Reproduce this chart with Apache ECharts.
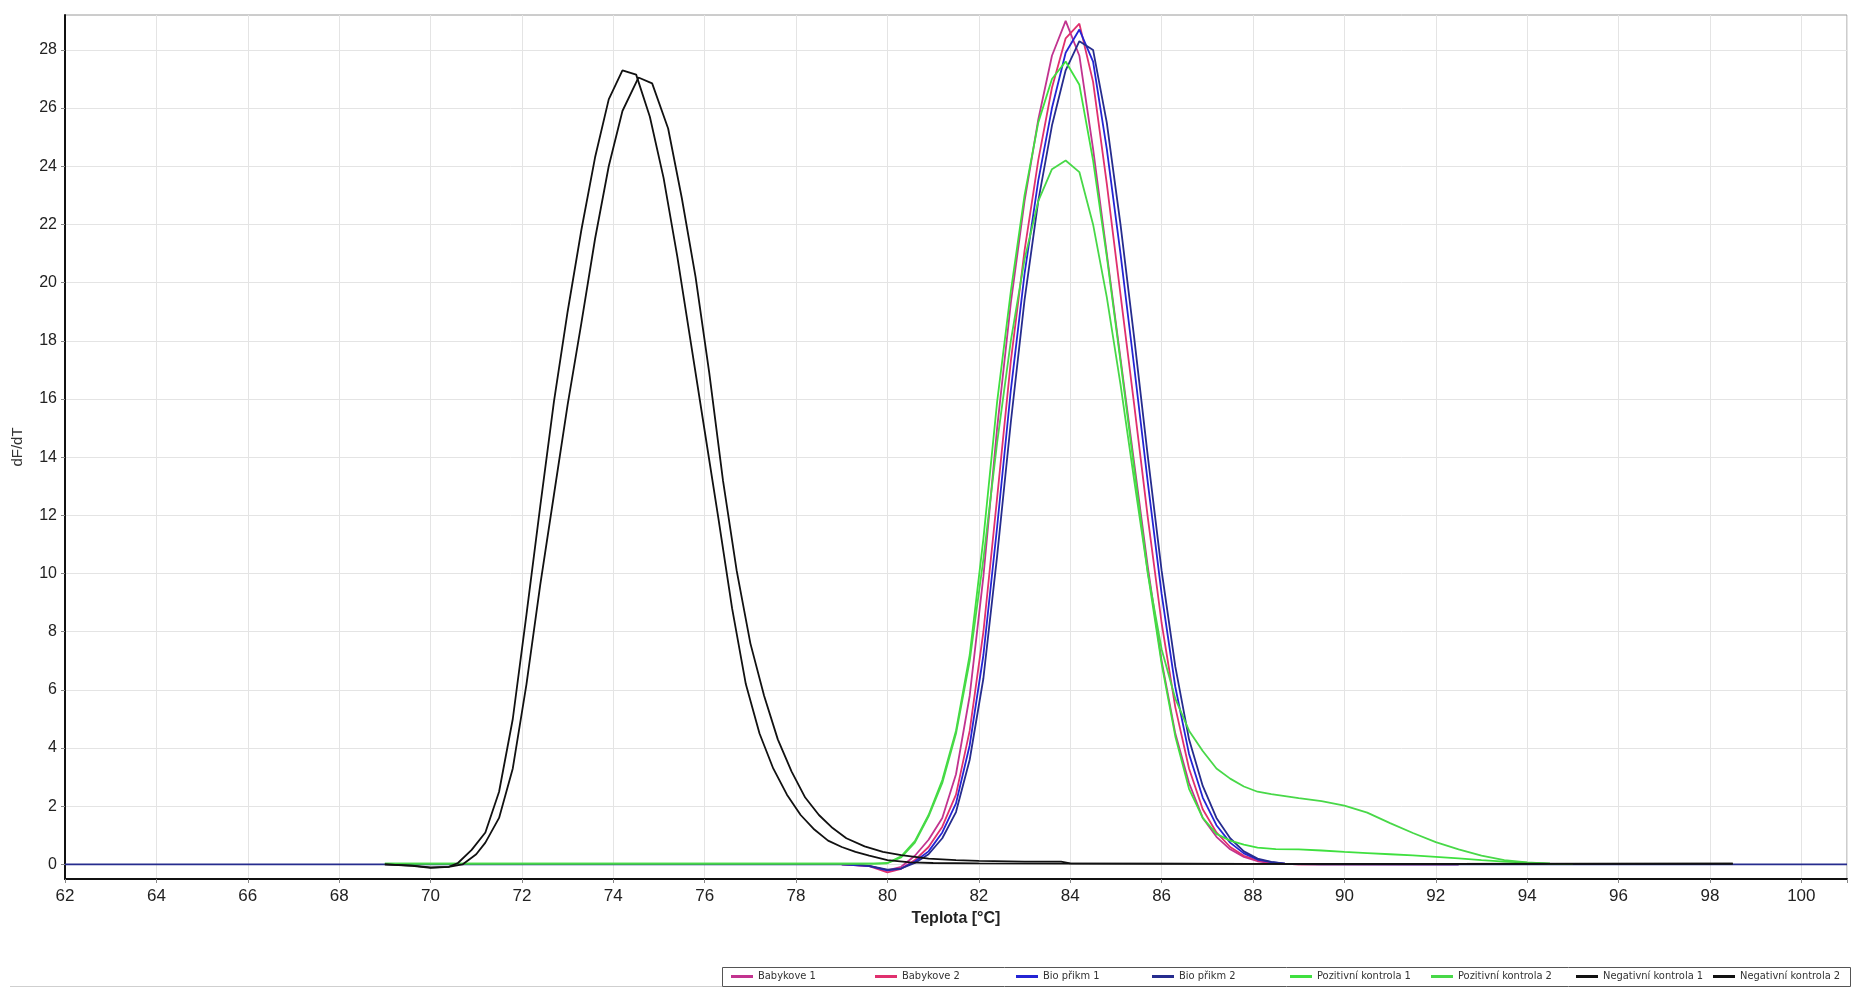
<!DOCTYPE html>
<html><head><meta charset="utf-8">
<script src="https://cdn.jsdelivr.net/npm/echarts@6/dist/echarts.min.js"></script>
<style>html,body{margin:0;padding:0;background:#fff}#c{width:1852px;height:988px}</style>
</head><body><div id="c"></div>
<script>
// Teplota [°C] ticks and dF/dT ticks
const xTicks = [62,64,66,68,70,72,74,76,78,80,82,84,86,88,90,92,94,96,98,100];
const yTicks = [0,2,4,6,8,10,12,14,16,18,20,22,24,26,28];

const seriesNames = ["Babykove 1","Babykove 2","Bio přikm 1","Bio přikm 2","Pozitivní kontrola 1","Pozitivní kontrola 2","Negativní kontrola 1","Negativní kontrola 2"];

// [teplota, dF/dT] pairs
const babykove1 = [[79.0,0],[79.6,-0.05],[80.0,-0.2],[80.3,-0.08],[80.6,0.3],[80.9,0.85],[81.2,1.6],[81.5,3.1],[81.8,5.8],[82.1,9.9],[82.4,15.0],[82.7,19.3],[83.0,22.8],[83.3,25.6],[83.6,27.8],[83.9,29.0],[84.2,27.8],[84.5,24.6],[84.8,21.0],[85.1,17.4],[85.4,13.8],[85.7,10.2],[86.0,7.0],[86.3,4.5],[86.6,2.8],[86.9,1.6],[87.2,0.95],[87.5,0.52],[87.8,0.26],[88.1,0.11],[88.4,0.05],[88.7,0.02],[89.0,0],[92.5,0]];
const babykove2 = [[79.0,0],[79.6,-0.06],[80.0,-0.27],[80.3,-0.15],[80.6,0.15],[80.9,0.6],[81.2,1.3],[81.5,2.4],[81.8,4.6],[82.1,8.0],[82.4,12.6],[82.7,17.3],[83.0,21.1],[83.3,24.2],[83.6,26.7],[83.9,28.4],[84.2,28.9],[84.5,26.9],[84.8,23.4],[85.1,19.6],[85.4,15.8],[85.7,11.9],[86.0,8.3],[86.3,5.4],[86.6,3.3],[86.9,1.9],[87.2,1.1],[87.5,0.6],[87.8,0.3],[88.1,0.14],[88.4,0.06],[88.7,0.02],[89.0,0],[92.5,0]];
const bioPrikm1 = [[79.0,0],[79.6,-0.06],[80.0,-0.2],[80.3,-0.14],[80.6,0.1],[80.9,0.45],[81.2,1.1],[81.5,2.1],[81.8,4.1],[82.1,7.2],[82.4,11.6],[82.7,16.3],[83.0,20.3],[83.3,23.5],[83.6,26.0],[83.9,27.9],[84.2,28.7],[84.5,27.6],[84.8,24.6],[85.1,21.0],[85.4,17.1],[85.7,13.1],[86.0,9.3],[86.3,6.1],[86.6,3.8],[86.9,2.3],[87.2,1.35],[87.5,0.75],[87.8,0.38],[88.1,0.17],[88.4,0.08],[88.7,0.03],[89.0,0.01],[92.5,0]];
const bioPrikm2 = [[62.0,0],[79.3,0],[79.6,-0.05],[80.0,-0.18],[80.3,-0.14],[80.6,0.05],[80.9,0.35],[81.2,0.9],[81.5,1.8],[81.8,3.6],[82.1,6.4],[82.4,10.6],[82.7,15.2],[83.0,19.4],[83.3,22.8],[83.6,25.4],[83.9,27.3],[84.2,28.3],[84.5,28.0],[84.8,25.5],[85.1,22.0],[85.4,18.1],[85.7,14.0],[86.0,10.1],[86.3,6.8],[86.6,4.3],[86.9,2.7],[87.2,1.6],[87.5,0.9],[87.8,0.45],[88.1,0.2],[88.4,0.09],[88.7,0.03],[89.0,0.01],[89.5,0],[101.0,0]];
const pozitivni1 = [[69.0,0.03],[79.7,0.03],[80.0,0.05],[80.3,0.28],[80.6,0.8],[80.9,1.7],[81.2,2.9],[81.5,4.6],[81.8,7.2],[82.1,11.2],[82.4,15.9],[82.7,19.7],[83.0,23.0],[83.3,25.5],[83.6,27.0],[83.9,27.6],[84.2,26.8],[84.5,24.2],[84.8,20.9],[85.1,17.3],[85.4,13.6],[85.7,10.0],[86.0,6.9],[86.3,4.4],[86.6,2.6],[86.9,1.6],[87.2,1.05],[87.5,0.82],[87.8,0.68],[88.1,0.58],[88.5,0.53],[89.0,0.52],[89.5,0.48],[90.0,0.43],[90.5,0.39],[91.0,0.35],[91.5,0.31],[92.0,0.26],[92.5,0.21],[93.0,0.15],[93.5,0.1],[94.0,0.06],[94.5,0.03],[95.0,0.01]];
const pozitivni2 = [[69.0,0.03],[79.7,0.03],[80.0,0.04],[80.3,0.24],[80.6,0.75],[80.9,1.65],[81.2,2.8],[81.5,4.5],[81.8,7.0],[82.1,10.5],[82.4,14.5],[82.7,18.0],[83.0,20.8],[83.3,22.8],[83.6,23.9],[83.9,24.2],[84.2,23.8],[84.5,22.0],[84.8,19.5],[85.1,16.5],[85.4,13.2],[85.7,10.0],[86.0,7.4],[86.3,5.7],[86.6,4.6],[86.9,3.9],[87.2,3.3],[87.5,2.95],[87.8,2.68],[88.1,2.5],[88.4,2.42],[88.7,2.35],[89.0,2.28],[89.5,2.18],[90.0,2.02],[90.5,1.78],[91.0,1.42],[91.5,1.08],[92.0,0.77],[92.5,0.52],[93.0,0.3],[93.5,0.15],[94.0,0.07],[94.5,0.03],[95.0,0.01]];
const negativni1 = [[69.0,0],[69.6,-0.05],[70.0,-0.12],[70.4,-0.08],[70.6,0.05],[70.9,0.5],[71.2,1.1],[71.5,2.5],[71.8,5.0],[72.1,8.6],[72.4,12.3],[72.7,15.9],[73.0,19.0],[73.3,21.8],[73.6,24.3],[73.9,26.3],[74.2,27.3],[74.5,27.15],[74.8,25.7],[75.1,23.6],[75.4,20.9],[75.7,17.9],[76.0,14.9],[76.3,11.9],[76.6,8.8],[76.9,6.2],[77.2,4.5],[77.5,3.3],[77.8,2.4],[78.1,1.7],[78.4,1.2],[78.7,0.82],[79.0,0.6],[79.3,0.43],[79.6,0.3],[80.0,0.15],[80.5,0.07],[81.0,0.05],[82.0,0.04],[84.0,0.03],[88.0,0.02],[92.0,0.02],[98.5,0.03]];
const negativni2 = [[69.0,0],[69.6,-0.04],[70.0,-0.1],[70.4,-0.08],[70.7,0],[71.0,0.35],[71.2,0.75],[71.5,1.6],[71.8,3.3],[72.1,6.2],[72.4,9.6],[72.7,12.7],[73.0,15.8],[73.3,18.6],[73.6,21.5],[73.9,24.0],[74.2,25.9],[74.55,27.05],[74.85,26.85],[75.2,25.3],[75.5,22.9],[75.8,20.2],[76.1,16.9],[76.4,13.2],[76.7,10.1],[77.0,7.6],[77.3,5.8],[77.6,4.3],[77.9,3.2],[78.2,2.3],[78.5,1.7],[78.8,1.25],[79.1,0.9],[79.5,0.62],[79.9,0.43],[80.3,0.32],[80.9,0.2],[81.5,0.15],[82.0,0.12],[83.0,0.1],[83.8,0.1],[84.0,0.04],[88.0,0.02],[92.0,0.02],[98.5,0.03]];

const seriesData = [babykove1,babykove2,bioPrikm1,bioPrikm2,pozitivni1,pozitivni2,negativni1,negativni2];
const seriesColors = ['#c2338f','#e0306e','#2424d4','#262c8e','#3fe03f','#48d848','#111111','#111111'];
const legendLefts = [731,875,1016,1152,1290,1431,1576,1713];

const chart = echarts.init(document.getElementById('c'), null, {renderer:'canvas'});
const series = seriesNames.map((n,i)=>({
  name:n, type:'line', data:seriesData[i], showSymbol:false, symbol:'none',
  smooth:false, lineStyle:{color:seriesColors[i], width:1.8}, itemStyle:{color:seriesColors[i]},
  emphasis:{disabled:true}, z: 2
}));
const legends = seriesNames.map((n,i)=>({
  data:[n], left:legendLefts[i], top:971, orient:'horizontal',
  icon:'rect', itemWidth:22, itemHeight:3, itemGap:0, padding:0,
  textStyle:{fontFamily:"'Liberation Sans Narrow','DejaVu Sans Condensed',sans-serif",fontSize:11,color:'#333'},
  selectedMode:false
}));
chart.setOption({
  animation:false,
  backgroundColor:'#fff',
  grid:{left:65,right:5,top:15,bottom:109,show:true,borderColor:'#9a9a9a',borderWidth:1,containLabel:false},
  graphic:[
    {type:'rect',shape:{x:722.5,y:967.5,width:1128,height:19},style:{fill:'#fff',stroke:'#555',lineWidth:1},z:-1},
    {type:'line',shape:{x1:10,y1:986.5,x2:722,y2:986.5},style:{stroke:'#cfcfcf',lineWidth:1}}
  ],
  xAxis:{type:'value',min:62,max:101,interval:2,
    name:'Teplota [°C]',nameLocation:'middle',nameGap:32,
    nameTextStyle:{fontFamily:'Liberation Sans, Arial, sans-serif',fontSize:16,fontWeight:'bold',color:'#222'},
    axisLine:{show:true,onZero:false,lineStyle:{color:'#111',width:2}},
    axisTick:{show:true,length:4,lineStyle:{color:'#888'}},
    axisLabel:{fontFamily:'Liberation Sans, Arial, sans-serif',fontSize:17,color:'#222',margin:9,
      formatter:v=> xTicks.indexOf(v)>=0 ? String(v) : ''},
    splitLine:{show:true,lineStyle:{color:'#e4e4e4',width:1}}
  },
  yAxis:{type:'value',min:-0.5,max:29.2,
    name:'dF/dT',nameLocation:'middle',nameGap:40,nameRotate:90,
    nameTextStyle:{fontFamily:'Liberation Sans, Arial, sans-serif',fontSize:15,color:'#333'},
    axisLine:{show:true,onZero:false,lineStyle:{color:'#111',width:2}},
    axisTick:{show:true,length:4,lineStyle:{color:'#888'},customValues:yTicks},
    axisLabel:{fontFamily:'Liberation Sans, Arial, sans-serif',fontSize:16,color:'#222',margin:8,customValues:yTicks},
    splitLine:{show:true,lineStyle:{color:'#e4e4e4',width:1}}
  },
  legend:legends,
  series
});
</script>
</body></html>
